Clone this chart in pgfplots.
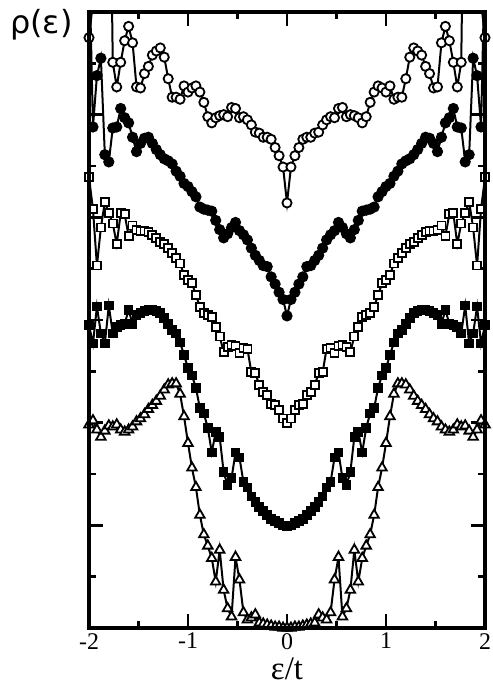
\documentclass[border=0pt]{standalone}
\usepackage{fontspec}
\setmainfont{Liberation Serif}
\newfontfamily\labelsans{DejaVu Sans}
\usepackage{pgfplots}
\usepackage{pgfplotstable}
\pgfplotsset{compat=1.18}

% density of states for five parameter sets, offset vertically
\pgfplotstableread{
x a b c d e
-2.00 5.75 6.60 4.39 2.95 1.98
-1.96 6.10 4.88 4.08 2.77 2.02
-1.92 6.50 5.38 3.53 3.13 1.93
-1.88 7.00 5.55 3.90 2.87 1.86
-1.84 7.50 4.61 4.15 2.77 1.92
-1.80 8.50 4.54 4.04 3.14 1.97
-1.76 5.51 4.87 3.94 2.87 1.96
-1.72 5.27 4.88 3.74 2.93 1.98
-1.68 5.51 5.06 4.04 2.95 1.93
-1.64 5.72 4.97 4.03 2.96 1.91
-1.60 5.86 4.92 3.82 3.10 1.93
-1.56 5.70 4.78 3.92 2.96 1.96
-1.52 5.27 4.64 3.88 3.05 2.01
-1.48 5.26 4.72 3.87 3.07 2.04
-1.44 5.40 4.77 3.87 3.09 2.08
-1.40 5.47 4.78 3.86 3.10 2.13
-1.36 5.58 4.72 3.83 3.10 2.17
-1.32 5.62 4.66 3.80 3.09 2.21
-1.28 5.65 4.61 3.76 3.07 2.26
-1.24 5.56 4.57 3.74 3.02 2.32
-1.20 5.35 4.55 3.70 2.96 2.37
-1.16 5.17 4.52 3.65 2.90 2.38
-1.12 5.17 4.45 3.60 2.87 2.38
-1.08 5.15 4.40 3.55 2.78 2.28
-1.04 5.28 4.33 3.44 2.66 2.06
-1.00 5.22 4.30 3.39 2.53 1.80
-0.96 5.26 4.25 3.36 2.46 1.56
-0.92 5.28 4.20 3.24 2.34 1.37
-0.88 5.22 4.10 3.13 2.14 1.10
-0.84 5.12 4.08 3.07 2.09 0.91
-0.80 4.98 4.07 3.05 1.95 0.80
-0.76 4.92 4.06 3.03 1.71 0.68
-0.72 4.97 3.97 2.93 1.91 0.45
-0.68 4.99 3.88 2.84 1.86 0.76
-0.64 5.00 3.80 2.69 1.52 0.37
-0.60 4.98 3.84 2.74 1.39 0.19
-0.56 5.07 3.90 2.76 1.46 0.11
-0.52 5.06 3.95 2.75 1.71 0.69
-0.48 4.97 3.87 2.68 1.66 0.47
-0.44 4.98 3.83 2.73 1.42 0.15
-0.40 4.95 3.78 2.72 1.37 0.08
-0.36 4.90 3.70 2.49 1.28 0.10
-0.32 4.83 3.63 2.48 1.23 0.13
-0.28 4.82 3.58 2.37 1.18 0.05
-0.24 4.78 3.53 2.30 1.14 0.04
-0.20 4.78 3.52 2.27 1.10 0.03
-0.16 4.76 3.42 2.18 1.06 0.02
-0.12 4.68 3.35 2.17 1.04 0.01
-0.08 4.60 3.27 2.12 1.02 0.01
-0.04 4.49 3.20 2.04 1.00 0.00
0.00 4.14 3.04 2.00 0.99 0.00
0.04 4.49 3.20 2.04 1.00 0.00
0.08 4.60 3.27 2.12 1.02 0.01
0.12 4.68 3.35 2.17 1.04 0.01
0.16 4.76 3.42 2.18 1.06 0.02
0.20 4.78 3.52 2.27 1.10 0.03
0.24 4.78 3.53 2.30 1.14 0.04
0.28 4.82 3.58 2.37 1.18 0.05
0.32 4.83 3.63 2.48 1.23 0.13
0.36 4.90 3.70 2.49 1.28 0.10
0.40 4.95 3.78 2.72 1.37 0.08
0.44 4.98 3.83 2.73 1.42 0.15
0.48 4.97 3.87 2.68 1.66 0.47
0.52 5.06 3.95 2.75 1.71 0.69
0.56 5.07 3.90 2.76 1.46 0.11
0.60 4.98 3.84 2.74 1.39 0.19
0.64 5.00 3.80 2.69 1.52 0.37
0.68 4.99 3.88 2.84 1.86 0.76
0.72 4.97 3.97 2.93 1.91 0.45
0.76 4.92 4.06 3.03 1.71 0.68
0.80 4.98 4.07 3.05 1.95 0.80
0.84 5.12 4.08 3.07 2.09 0.91
0.88 5.22 4.10 3.13 2.14 1.10
0.92 5.28 4.20 3.24 2.34 1.37
0.96 5.26 4.25 3.36 2.46 1.56
1.00 5.22 4.30 3.39 2.53 1.80
1.04 5.28 4.33 3.44 2.66 2.06
1.08 5.15 4.40 3.55 2.78 2.28
1.12 5.17 4.45 3.60 2.87 2.38
1.16 5.17 4.52 3.65 2.90 2.38
1.20 5.35 4.55 3.70 2.96 2.37
1.24 5.56 4.57 3.74 3.02 2.32
1.28 5.65 4.61 3.76 3.07 2.26
1.32 5.62 4.66 3.80 3.09 2.21
1.36 5.58 4.72 3.83 3.10 2.17
1.40 5.47 4.78 3.86 3.10 2.13
1.44 5.40 4.77 3.87 3.09 2.08
1.48 5.26 4.72 3.87 3.07 2.04
1.52 5.27 4.64 3.88 3.05 2.01
1.56 5.70 4.78 3.92 2.96 1.96
1.60 5.86 4.92 3.82 3.10 1.93
1.64 5.72 4.97 4.03 2.96 1.91
1.68 5.51 5.06 4.04 2.95 1.93
1.72 5.27 4.88 3.74 2.93 1.98
1.76 5.51 4.87 3.94 2.87 1.96
1.80 8.50 4.54 4.04 3.14 1.97
1.84 7.50 4.61 4.15 2.77 1.92
1.88 7.00 5.55 3.90 2.87 1.86
1.92 6.50 5.38 3.53 3.13 1.93
1.96 6.10 4.88 4.08 2.77 2.02
2.00 5.75 6.60 4.39 2.95 1.98
}\dostable

\begin{document}
\begin{tikzpicture}[x=1bp,y=1bp]
\useasboundingbox (0,0) rectangle (493,687);
\begin{axis}[
  at={(89bp,59bp)}, anchor=south west,
  scale only axis, width=396bp, height=616bp,
  xmin=-2, xmax=2, ymin=0, ymax=6,
  xtick={-2,-1,0,1,2}, xticklabels={-2,-1,0,1,2},
  minor x tick num=1,
  ytick={0,1,2,3,4,5,6}, yticklabels={}, minor y tick num=1,
  tick align=inside,
  major tick length=14bp, minor tick length=7bp,
  tick style={black, line width=2.5bp},
  axis line style={line width=3bp},
  xticklabel style={font=\fontsize{24}{24}\selectfont, inner sep=0pt, yshift=-5bp},
  axis on top,
]
\addplot[black, line width=2bp, mark=triangle*, mark size=5.5bp,
  mark options={fill=white, line width=1.8bp}] table[x=x,y=e]{\dostable};
\addplot[black, line width=2bp, mark=square*, mark size=4.2bp,
  mark options={fill=black, line width=1.2bp}] table[x=x,y=d]{\dostable};
\addplot[black, line width=2bp, mark=square*, mark size=4bp,
  mark options={fill=white, line width=1.8bp}] table[x=x,y=c]{\dostable};
\addplot[black, line width=2bp, mark=*, mark size=5bp,
  mark options={fill=black, line width=1.2bp}] table[x=x,y=b]{\dostable};
\addplot[black, line width=2bp, mark=*, mark size=4.6bp,
  mark options={fill=white, line width=1.8bp}] table[x=x,y=a]{\dostable};
\end{axis}
% heavy frame around the plot area
\draw[line width=3.2bp] (89,59) rectangle (485,675);
\node[anchor=base west, inner sep=0pt, font=\labelsans\fontsize{32}{32}\selectfont] at (10,653) {ρ(ε)};
\node[anchor=base, inner sep=0pt, font=\fontsize{33}{33}\selectfont] at (287,7) {ε/t};
\end{tikzpicture}
\end{document}
